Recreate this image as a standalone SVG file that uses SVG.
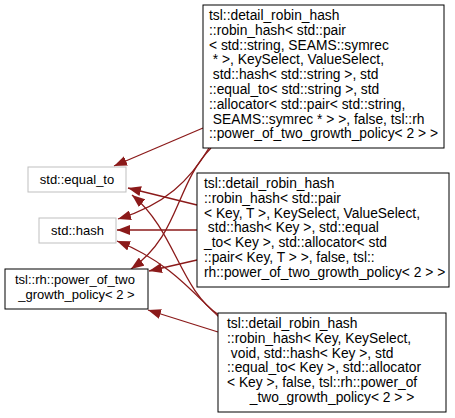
<svg xmlns="http://www.w3.org/2000/svg" width="455" height="418" viewBox="0 0 455 418">
<style>
text{font-family:"Liberation Sans",Arial,sans-serif;font-size:13px;fill:#000;white-space:pre}
.r text{font-size:13.8px}
.box{fill:#fff;stroke:#000;stroke-width:1}
.ext{fill:#fff;stroke:#bfbfbf;stroke-width:1}
.edge{fill:none;stroke:#8b1a1a;stroke-width:1.3}
.c{text-anchor:middle}
</style>
<defs>
<marker id="ah" viewBox="0 0 13 10" refX="13" refY="5" markerWidth="13" markerHeight="10" markerUnits="userSpaceOnUse" orient="auto">
<path d="M0,0 L13,5 L0,10 z" fill="#8b1a1a"/>
</marker>
</defs>
<rect width="455" height="418" fill="#fff"/>
<g id="edges">
<path class="edge" marker-end="url(#ah)" d="M203,128 L114,166"/>
<path class="edge" marker-end="url(#ah)" d="M209,148 C190,180 165,205 118,219"/>
<path class="edge" marker-end="url(#ah)" d="M211,148 C175,185 180,235 131,269"/>
<path class="edge" marker-end="url(#ah)" d="M197,205 L128,188"/>
<path class="edge" marker-end="url(#ah)" d="M197,230 L117,230"/>
<path class="edge" marker-end="url(#ah)" d="M197,260 L149,271"/>
<path class="edge" marker-end="url(#ah)" d="M219,315 C180,290 175,230 132,195"/>
<path class="edge" marker-end="url(#ah)" d="M219,317 C195,295 170,262 117,241"/>
<path class="edge" marker-end="url(#ah)" d="M218,332 L148,310"/>
</g>
<g id="nodeA" class="r">
<rect class="box" x="203" y="5" width="241" height="143"/>
<text x="209" y="20">tsl::detail_robin_hash</text>
<text x="209" y="34.8">::robin_hash&lt; std::pair</text>
<text x="209" y="49.6">&lt; std::string, SEAMS::symrec</text>
<text x="209" y="64.4"> * &gt;, KeySelect, ValueSelect,</text>
<text x="209" y="79.2"> std::hash&lt; std::string &gt;, std</text>
<text x="209" y="94">::equal_to&lt; std::string &gt;, std</text>
<text x="209" y="108.8">::allocator&lt; std::pair&lt; std::string,</text>
<text x="209" y="123.6"> SEAMS::symrec * &gt; &gt;, false, tsl::rh</text>
<text x="209" y="138.4">::power_of_two_growth_policy&lt; 2 &gt; &gt;</text>
</g>
<g id="nodeB" class="r">
<rect class="box" x="197" y="173" width="252" height="114"/>
<text x="204" y="188">tsl::detail_robin_hash</text>
<text x="204" y="202.8">::robin_hash&lt; std::pair</text>
<text x="204" y="217.6">&lt; Key, T &gt;, KeySelect, ValueSelect,</text>
<text x="204" y="232.4"> std::hash&lt; Key &gt;, std::equal</text>
<text x="204" y="247.2">_to&lt; Key &gt;, std::allocator&lt; std</text>
<text x="204" y="262">::pair&lt; Key, T &gt; &gt;, false, tsl::</text>
<text x="204" y="276.8">rh::power_of_two_growth_policy&lt; 2 &gt; &gt;</text>
</g>
<g id="nodeC" class="r">
<rect class="box" x="218" y="313" width="228" height="99"/>
<text x="227" y="328">tsl::detail_robin_hash</text>
<text x="227" y="342.8">::robin_hash&lt; Key, KeySelect,</text>
<text x="227" y="357.6"> void, std::hash&lt; Key &gt;, std</text>
<text x="227" y="372.4">::equal_to&lt; Key &gt;, std::allocator</text>
<text x="227" y="387.2">&lt; Key &gt;, false, tsl::rh::power_of</text>
<text class="c" x="332" y="402">_two_growth_policy&lt; 2 &gt; &gt;</text>
</g>
<g id="nodeEqual">
<rect class="ext" x="28" y="167" width="98" height="25"/>
<text class="c" x="77" y="184">std::equal_to</text>
</g>
<g id="nodeHash">
<rect class="ext" x="39" y="218" width="77" height="25"/>
<text class="c" x="77.5" y="235">std::hash</text>
</g>
<g id="nodePower">
<rect class="box" x="5" y="269" width="143" height="40"/>
<text x="15" y="284">tsl::rh::power_of_two</text>
<text class="c" x="76.5" y="298.8">_growth_policy&lt; 2 &gt;</text>
</g>
</svg>
